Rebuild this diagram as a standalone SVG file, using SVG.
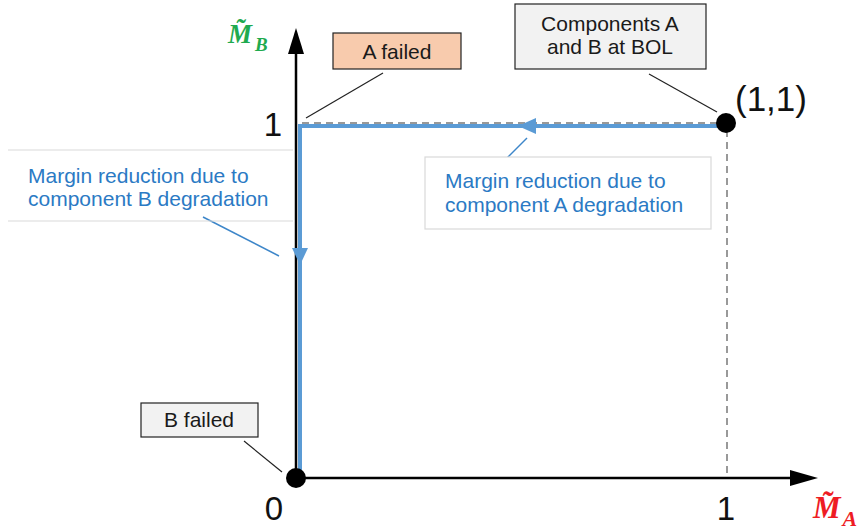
<svg xmlns="http://www.w3.org/2000/svg" width="858" height="531" viewBox="0 0 858 531">
  <style>
    text { font-family: "Liberation Sans", Arial, sans-serif; }
    .lbl { font-size: 21px; fill: #1a1a1a; text-anchor: middle; }
    .tick { font-size: 33px; fill: #111; text-anchor: middle; }
    .coord { font-size: 35px; fill: #111; }
    .note { font-size: 21px; fill: #2b7ac4; }
    .box { stroke: #222; stroke-width: 1.2; }
    .nbox { fill: #fff; stroke: #d9d9d9; stroke-width: 1.2; }
    .lead { stroke: #222; stroke-width: 1.2; fill: none; }
    .blead { stroke: #3d86c9; stroke-width: 1.5; fill: none; }
    .axis { stroke: #000; stroke-width: 2.5; fill: none; }
    .guide { stroke: #999; stroke-width: 2; stroke-dasharray: 7 5; fill: none; }
    .path { stroke: #5b9bd5; stroke-width: 4; fill: none; }
    .math { font-family: "Liberation Serif", "DejaVu Serif", "Times New Roman", serif; font-style: italic; font-weight: bold; }
  </style>

  <!-- connectors -->
  <g id="connectors">
    <!-- guide lines to the (1,1) point -->
    <path class="guide" d="M302 123 H723"/>
    <path class="guide" d="M727 130 V476"/>
    <!-- axes -->
    <line class="axis" x1="296" y1="478" x2="296" y2="50"/>
    <polygon points="296,28 288,54 304,54" fill="#000"/>
    <line class="axis" x1="296" y1="478" x2="793" y2="478"/>
    <polygon points="818,478 790,470 790,486" fill="#000"/>
    <!-- degradation path -->
    <path class="path" d="M725 126 H300 V478"/>
    <polygon points="518,126 536,118 536,134" fill="#5b9bd5"/>
    <polygon points="300,265 292,248 308,248" fill="#5b9bd5"/>
    <!-- leaders -->
    <line class="lead" x1="383" y1="73" x2="306" y2="118"/>
    <line class="lead" x1="649" y1="74" x2="717" y2="112"/>
    <line class="lead" x1="244" y1="441" x2="282" y2="472"/>
    <line class="blead" x1="502" y1="163" x2="527" y2="138"/>
    <line class="blead" x1="203" y1="217" x2="279" y2="256"/>
  </g>

  <!-- points -->
  <g id="point-bol">
    <circle cx="726" cy="123" r="10" fill="#000"/>
    <text class="coord" x="735" y="111">(1,1)</text>
  </g>
  <g id="point-origin">
    <circle cx="296" cy="478" r="10" fill="#000"/>
  </g>

  <!-- tick labels -->
  <g id="ticks">
    <text class="tick" x="273" y="136">1</text>
    <text class="tick" x="274" y="520">0</text>
    <text class="tick" x="726" y="520">1</text>
  </g>

  <!-- axis titles -->
  <g id="axis-b">
    <text class="math" x="228" y="43" font-size="27" fill="#1faa4f">M&#x303;<tspan font-size="19" dy="8" dx="3">B</tspan></text>
  </g>
  <g id="axis-a">
    <text class="math" x="813" y="518" font-size="31" fill="#ee1c24">M&#x303;<tspan font-size="22" dy="8" dx="2">A</tspan></text>
  </g>

  <!-- callouts -->
  <g id="a-failed">
    <rect class="box" x="333" y="33" width="128" height="36" fill="#f8cbad"/>
    <text class="lbl" x="397" y="59">A failed</text>
  </g>
  <g id="bol">
    <rect class="box" x="515" y="4" width="191" height="65" fill="#f2f2f2"/>
    <text class="lbl" x="610" y="31">Components A</text>
    <text class="lbl" x="610" y="54">and B at BOL</text>
  </g>
  <g id="b-failed">
    <rect class="box" x="141" y="403" width="117" height="34" fill="#f2f2f2"/>
    <text class="lbl" x="199" y="427">B failed</text>
  </g>
  <g id="note-a">
    <rect class="nbox" x="425" y="157" width="286" height="72"/>
    <text class="note" x="445" y="188">Margin reduction due to</text>
    <text class="note" x="445" y="212">component A degradation</text>
  </g>
  <g id="note-b">
    <path class="nbox" d="M8 150 H293 M8 221 H293"/>
    <text class="note" x="28" y="183">Margin reduction due to</text>
    <text class="note" x="28" y="206">component B degradation</text>
  </g>
</svg>
